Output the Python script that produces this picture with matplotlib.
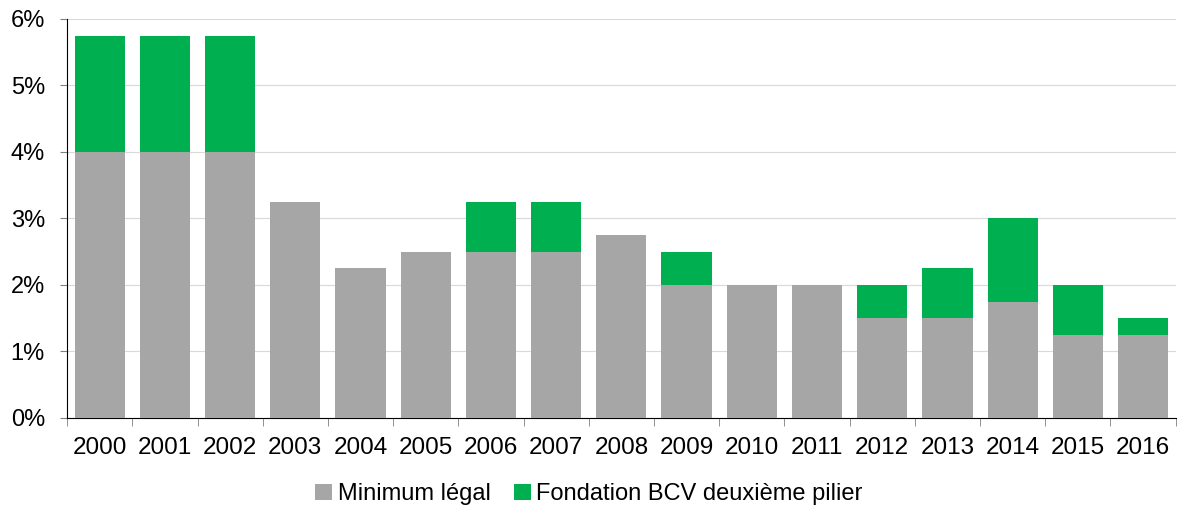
import matplotlib.pyplot as plt
from matplotlib.ticker import FuncFormatter

plt.rcParams['font.family'] = ['Liberation Sans', 'DejaVu Sans']

years = ['2000', '2001', '2002', '2003', '2004', '2005', '2006', '2007', '2008',
         '2009', '2010', '2011', '2012', '2013', '2014', '2015', '2016']
minimum_legal = [4.0, 4.0, 4.0, 3.25, 2.25, 2.5, 2.5, 2.5, 2.75,
                 2.0, 2.0, 2.0, 1.5, 1.5, 1.75, 1.25, 1.25]
fondation_bcv = [1.75, 1.75, 1.75, 0, 0, 0, 0.75, 0.75, 0,
                 0.5, 0, 0, 0.5, 0.75, 1.25, 0.75, 0.25]

gray = '#A6A6A6'
green = '#00B050'

fig = plt.figure(figsize=(11.78, 5.11), dpi=100)
ax = fig.add_axes([0.057, 0.182, 0.941, 0.781])

x = range(len(years))
ax.bar(x, minimum_legal, width=0.77, color=gray, label='Minimum légal', zorder=3)
ax.bar(x, fondation_bcv, width=0.77, bottom=minimum_legal, color=green,
       label='Fondation BCV deuxième pilier', zorder=3)

ax.set_xlim(-0.5, len(years) - 0.5)
ax.set_ylim(0, 6)
ax.set_yticks(range(0, 7))
ax.yaxis.set_major_formatter(FuncFormatter(lambda v, p: f'{v:.0f}%'))
ax.grid(axis='y', color='#D9D9D9', linewidth=0.8, zorder=0)

ax.set_xticks(list(x))
ax.set_xticklabels(years)
ax.set_xticks([i - 0.5 for i in range(len(years) + 1)], minor=True)
ax.tick_params(axis='x', which='major', length=0, pad=14, labelsize=17.5)
ax.tick_params(axis='x', which='minor', length=6, color='#808080', direction='out')
ax.tick_params(axis='y', length=5, color='#808080', labelsize=17, pad=11)

for s in ['top', 'right']:
    ax.spines[s].set_visible(False)
ax.spines['left'].set_color('black')
ax.spines['bottom'].set_color('black')

fig.legend(loc='center', bbox_to_anchor=(0.5, 0.033), ncol=2, frameon=False,
           fontsize=17, handlelength=0.7, handleheight=0.7, handletextpad=0.25,
           columnspacing=1.0)

fig.savefig('out.png', dpi=100)
